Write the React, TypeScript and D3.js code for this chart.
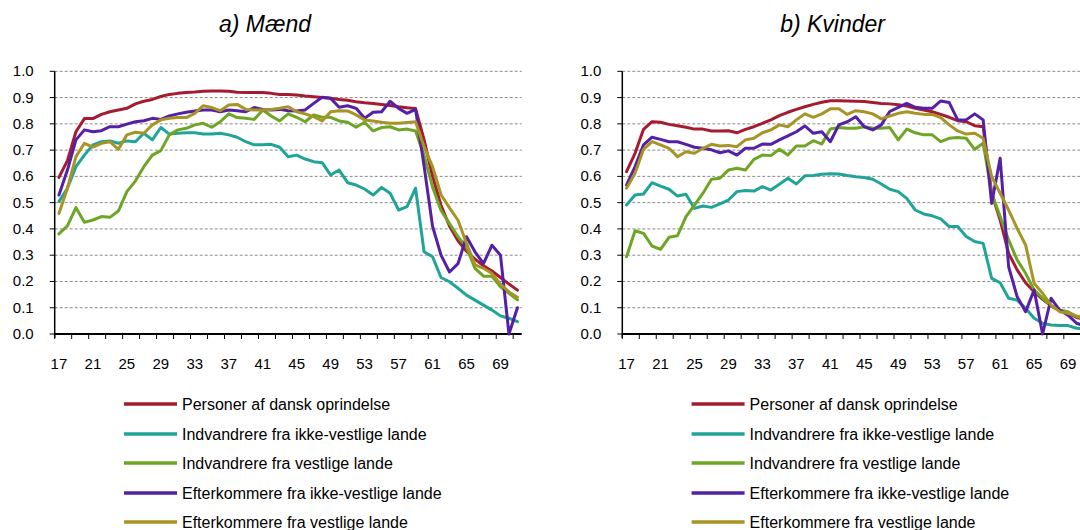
import React from "react";
import * as d3 from "d3";

const ages: number[] = d3.range(17, 72);
const tickLabels: number[] = [17, 21, 25, 29, 33, 37, 41, 45, 49, 53, 57, 61, 65, 69];
const yTicks: number[] = [0, 0.1, 0.2, 0.3, 0.4, 0.5, 0.6, 0.7, 0.8, 0.9, 1.0];

const seriesNames: string[] = [
  "Personer af dansk oprindelse",
  "Indvandrere fra ikke-vestlige lande",
  "Indvandrere fra vestlige lande",
  "Efterkommere fra ikke-vestlige lande",
  "Efterkommere fra vestlige lande",
];
const seriesColors: string[] = ["#A51C30", "#1FA597", "#6EA524", "#5520A5", "#A89424"];

const menDansk = [
  0.596, 0.66, 0.77, 0.82, 0.82, 0.836, 0.846, 0.853, 0.859, 0.876,
  0.886, 0.893, 0.904, 0.912, 0.916, 0.919, 0.921, 0.924, 0.925, 0.925,
  0.924, 0.92, 0.919, 0.919, 0.919, 0.916, 0.912, 0.912, 0.91, 0.906,
  0.903, 0.9, 0.897, 0.893, 0.89, 0.884, 0.88, 0.877, 0.874, 0.87,
  0.865, 0.861, 0.858, 0.74, 0.6, 0.49, 0.41, 0.355, 0.315, 0.285,
  0.26, 0.24, 0.215, 0.19, 0.167,
];
const menIkkeVestIndv = [
  0.504, 0.555, 0.637, 0.681, 0.72, 0.732, 0.735, 0.726, 0.735, 0.732,
  0.764, 0.739, 0.786, 0.761, 0.764, 0.766, 0.766, 0.761, 0.761, 0.764,
  0.758, 0.749, 0.732, 0.72, 0.72, 0.722, 0.711, 0.675, 0.681, 0.666,
  0.656, 0.652, 0.605, 0.624, 0.576, 0.567, 0.552, 0.529, 0.558, 0.536,
  0.472, 0.485, 0.555, 0.313, 0.294, 0.215, 0.199, 0.174, 0.148, 0.129,
  0.11, 0.091, 0.069, 0.06, 0.047,
];
const menVestIndv = [
  0.381, 0.412, 0.481, 0.425, 0.434, 0.447, 0.444, 0.468, 0.542, 0.582,
  0.637, 0.681, 0.698, 0.758, 0.777, 0.783, 0.796, 0.802, 0.787, 0.808,
  0.838, 0.824, 0.821, 0.817, 0.853, 0.83, 0.811, 0.838, 0.825, 0.808,
  0.834, 0.825, 0.825, 0.811, 0.806, 0.787, 0.806, 0.773, 0.786, 0.789,
  0.777, 0.78, 0.773, 0.68, 0.56, 0.47, 0.42, 0.37, 0.33, 0.25,
  0.22, 0.22, 0.18, 0.155, 0.13,
];
const menIkkeVestEfter = [
  0.529, 0.624, 0.739, 0.777, 0.77, 0.774, 0.789, 0.789, 0.799, 0.808,
  0.812, 0.821, 0.817, 0.83, 0.838, 0.844, 0.849, 0.853, 0.853, 0.846,
  0.853, 0.85, 0.846, 0.862, 0.855, 0.853, 0.855, 0.85, 0.849, 0.853,
  0.878, 0.901, 0.897, 0.863, 0.869, 0.859, 0.821, 0.844, 0.846, 0.886,
  0.859, 0.84, 0.855, 0.64, 0.41, 0.3, 0.236, 0.268, 0.37, 0.313,
  0.268, 0.338, 0.3, 0.0, 0.1,
];
const menVestEfter = [
  0.459, 0.555, 0.675, 0.726, 0.711, 0.726, 0.732, 0.703, 0.758, 0.768,
  0.764, 0.796, 0.815, 0.821, 0.824, 0.824, 0.84, 0.869, 0.862, 0.85,
  0.872, 0.874, 0.855, 0.853, 0.853, 0.855, 0.859, 0.865, 0.846, 0.838,
  0.827, 0.811, 0.846, 0.85, 0.849, 0.834, 0.815, 0.811, 0.806, 0.802,
  0.802, 0.805, 0.808, 0.713, 0.637, 0.53, 0.48, 0.433, 0.345, 0.263,
  0.25, 0.23, 0.19, 0.16, 0.14,
];

const womenDansk = [
  0.618, 0.688, 0.779, 0.808, 0.806, 0.798, 0.793, 0.787, 0.78, 0.78,
  0.773, 0.773, 0.774, 0.766, 0.779, 0.789, 0.802, 0.815, 0.831, 0.844,
  0.855, 0.865, 0.874, 0.882, 0.888, 0.888, 0.887, 0.886, 0.885, 0.881,
  0.877, 0.876, 0.873, 0.868, 0.859, 0.853, 0.846, 0.836, 0.825, 0.812,
  0.808, 0.793, 0.789, 0.536, 0.434, 0.307, 0.244, 0.195, 0.161, 0.132,
  0.107, 0.089, 0.081, 0.063, 0.055,
];
const womenIkkeVestIndv = [
  0.491, 0.529, 0.533, 0.576, 0.563, 0.551, 0.525, 0.532, 0.478, 0.487,
  0.482, 0.495, 0.51, 0.542, 0.546, 0.544, 0.561, 0.548, 0.57, 0.593,
  0.571, 0.602, 0.603, 0.608, 0.61, 0.609, 0.603, 0.599, 0.596, 0.589,
  0.571, 0.551, 0.542, 0.516, 0.472, 0.457, 0.45, 0.438, 0.409, 0.409,
  0.371, 0.352, 0.345, 0.212, 0.195, 0.136, 0.129, 0.098, 0.06, 0.041,
  0.034, 0.032, 0.032, 0.022, 0.02,
];
const womenVestIndv = [
  0.294, 0.393, 0.383, 0.335, 0.322, 0.368, 0.374, 0.447, 0.491, 0.536,
  0.589, 0.593, 0.624, 0.631, 0.624, 0.665, 0.681, 0.679, 0.703, 0.681,
  0.716, 0.716, 0.736, 0.723, 0.78, 0.786, 0.783, 0.783, 0.789, 0.783,
  0.783, 0.786, 0.739, 0.78, 0.766, 0.758, 0.758, 0.732, 0.745, 0.748,
  0.745, 0.703, 0.726, 0.536, 0.447, 0.358, 0.282, 0.231, 0.168, 0.136,
  0.107, 0.091, 0.085, 0.066, 0.06,
];
const womenIkkeVestEfter = [
  0.567, 0.637, 0.72, 0.749, 0.741, 0.732, 0.732, 0.722, 0.711, 0.707,
  0.701, 0.69, 0.697, 0.681, 0.707, 0.707, 0.723, 0.722, 0.739, 0.754,
  0.77, 0.792, 0.764, 0.77, 0.732, 0.796, 0.808, 0.827, 0.789, 0.777,
  0.796, 0.847, 0.863, 0.878, 0.863, 0.859, 0.859, 0.887, 0.881, 0.815,
  0.815, 0.838, 0.815, 0.497, 0.669, 0.256, 0.142, 0.085, 0.168, 0.0,
  0.136, 0.091, 0.072, 0.041, 0.03,
];
const womenVestEfter = [
  0.555, 0.612, 0.703, 0.732, 0.72, 0.707, 0.675, 0.694, 0.688, 0.707,
  0.722, 0.716, 0.718, 0.713, 0.739, 0.745, 0.766, 0.777, 0.796, 0.789,
  0.815, 0.838, 0.825, 0.838, 0.857, 0.857, 0.836, 0.85, 0.846, 0.838,
  0.819, 0.83, 0.84, 0.846, 0.84, 0.836, 0.836, 0.824, 0.796, 0.773,
  0.761, 0.764, 0.745, 0.599, 0.536, 0.472, 0.402, 0.339, 0.193, 0.155,
  0.11, 0.085, 0.079, 0.069, 0.06,
];

const panels = [
  { title: "a) Mænd", offset: 0, series: [menDansk, menIkkeVestIndv, menVestIndv, menIkkeVestEfter, menVestEfter] },
  { title: "b) Kvinder", offset: 567.6, series: [womenDansk, womenIkkeVestIndv, womenVestIndv, womenIkkeVestEfter, womenVestEfter] },
];

const FONT = "'Liberation Sans', Arial, Helvetica, sans-serif";
const PLOT_LEFT = 54.7;
const PLOT_W = 467;
const PLOT_TOP = 71.3;
const PLOT_BOTTOM = 334;

function Panel({ title, offset, series }: { title: string; offset: number; series: number[][] }) {
  const x = d3.scaleBand<number>().domain(ages).range([PLOT_LEFT + offset, PLOT_LEFT + offset + PLOT_W]).padding(0);
  const y = d3.scaleLinear().domain([0, 1]).range([PLOT_BOTTOM, PLOT_TOP]);
  const cx = (a: number) => (x(a) as number) + x.bandwidth() / 2;
  const line = d3
    .line<number>()
    .x((_, i) => cx(ages[i]))
    .y((d) => y(d));
  const x0 = PLOT_LEFT + offset;
  const x1 = x0 + PLOT_W;
  const boundaryTicks = d3.range(0, ages.length, 2).map((k) => x0 + k * x.bandwidth());
  const legendY = [404, 434, 463, 493, 522];
  return (
    <g>
      <text x={265 + offset} y={32} textAnchor="middle" fontStyle="italic" fontSize={23} fontFamily={FONT} fill="#000">
        {title}
      </text>
      {yTicks.filter((t) => t > 0).map((t) => (
        <line key={"g" + t} x1={x0} x2={x1} y1={y(t)} y2={y(t)} stroke="#8a8a8a" strokeWidth={1} strokeDasharray="3,2" />
      ))}
      {yTicks.map((t) => (
        <g key={"y" + t}>
          <line x1={x0 - 5} x2={x0} y1={y(t)} y2={y(t)} stroke="#000" strokeWidth={1} />
          <text x={x0 - 21} y={y(t) + 5} textAnchor="end" fontSize={15} fontFamily={FONT} fill="#000">
            {t.toFixed(1)}
          </text>
        </g>
      ))}
      {boundaryTicks.map((bx, i) => (
        <line key={"xt" + i} x1={bx} x2={bx} y1={PLOT_BOTTOM} y2={PLOT_BOTTOM + 5} stroke="#000" strokeWidth={1} />
      ))}
      {tickLabels.map((a) => (
        <text key={"xl" + a} x={cx(a)} y={369} textAnchor="middle" fontSize={15} fontFamily={FONT} fill="#000">
          {a}
        </text>
      ))}
      <line x1={x0} x2={x0} y1={PLOT_TOP} y2={PLOT_BOTTOM + 4} stroke="#000" strokeWidth={1.5} />
      <line x1={x0} x2={x1} y1={PLOT_BOTTOM} y2={PLOT_BOTTOM} stroke="#000" strokeWidth={2} />
      {series.map((s, i) => (
        <path
          key={"s" + i}
          d={line(s) || ""}
          fill="none"
          stroke={seriesColors[i]}
          strokeWidth={3}
          strokeLinejoin="round"
          strokeLinecap="round"
        />
      ))}
      {seriesNames.map((n, i) => (
        <g key={"lg" + i}>
          <line x1={124 + offset} x2={177 + offset} y1={legendY[i]} y2={legendY[i]} stroke={seriesColors[i]} strokeWidth={3.5} />
          <text x={182 + offset} y={legendY[i] + 5.5} fontSize={16} fontFamily={FONT} fill="#000">
            {n}
          </text>
        </g>
      ))}
    </g>
  );
}

export default function App() {
  return (
    <svg
      width={1080}
      height={530}
      style={{ position: "absolute", left: 0, top: 0, background: "#fff" }}
    >
      <rect x={0} y={0} width={1080} height={530} fill="#fff" />
      {panels.map((p) => (
        <Panel key={p.title} title={p.title} offset={p.offset} series={p.series} />
      ))}
    </svg>
  );
}
